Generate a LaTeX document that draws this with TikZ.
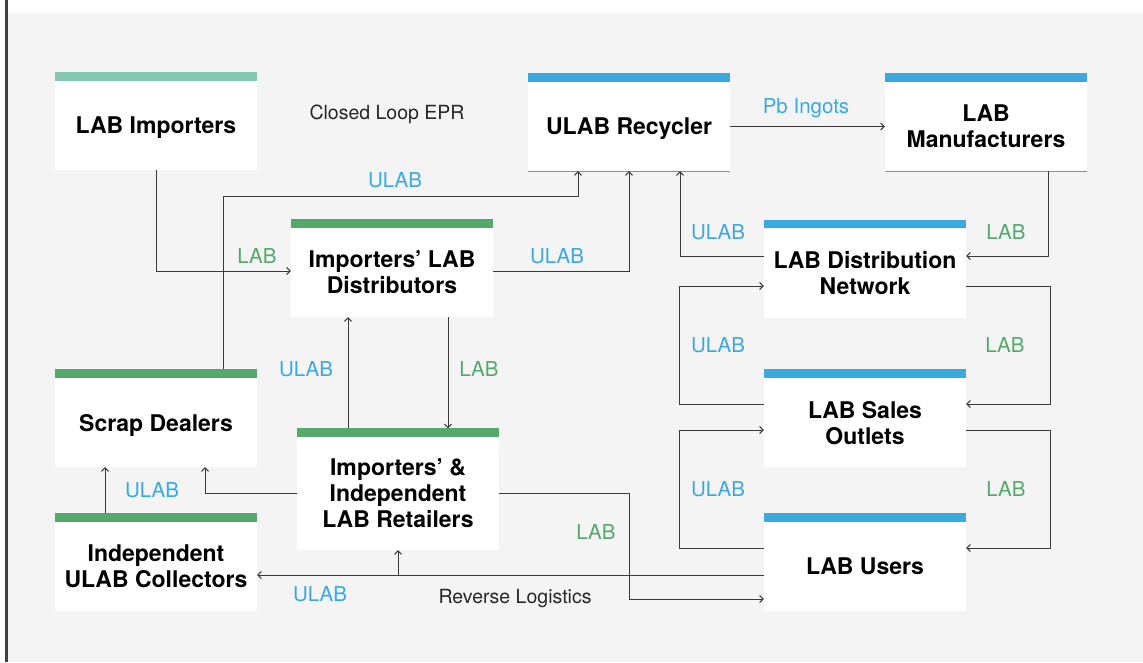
\documentclass[tikz,border=0pt]{standalone}
\usepackage{fontspec}
\setmainfont{TeX Gyre Heros}
\usetikzlibrary{arrows.meta}

\definecolor{ulabblue}{HTML}{39A9DF}
\definecolor{labgreen}{HTML}{52A96A}
\definecolor{importteal}{HTML}{84C8B2}
\definecolor{canvasgrey}{HTML}{F4F4F4}
\definecolor{wiregrey}{HTML}{3A3A3A}

\begin{document}
\begin{tikzpicture}[
      x=1pt,y=-1pt,
      actor/.style={fill=white,minimum width=202pt,minimum height=89pt,inner sep=2pt,align=center,
        font=\bfseries\fontsize{23}{26}\selectfont,text depth=0pt,
        label={[fill=#1,minimum width=202pt,minimum height=8.5pt,inner sep=0pt]north:{}}},
      edged/.style={append after command={\pgfextra{\draw[ulabblue,line width=1pt] (\tikzlastnode.south west) -- (\tikzlastnode.south east);}}},
      flow/.style={-{Straight Barb[length=3.5pt,width=7pt]},draw=wiregrey,line width=1pt},
      ulab/.style={text=ulabblue,font=\fontsize{20.5}{24}\selectfont},
      lab/.style={text=labgreen,font=\fontsize{20.5}{24}\selectfont},
      note/.style={text=black!85,font=\fontsize{19.5}{23}\selectfont}
    ]
      % canvas
      \fill[white] (0,0) rectangle (1143,662);
      \fill[canvasgrey] (7,13) rectangle (1143,662);
      \fill[black!75] (4.5,0) rectangle (7.5,662);

      % actors
      \node[actor=importteal] (imp) at (156,125.5) {LAB Importers};
      \node[actor=ulabblue,edged] (rec) at (629,126.5) {ULAB Recycler};
      \node[actor=ulabblue,edged] (man) at (986,126.5) {LAB\\Manufacturers};
      \node[actor=labgreen] (dist) at (392,272.5) {Importers’ LAB\\Distributors};
      \node[actor=ulabblue] (net) at (865,273) {LAB Distribution\\Network};
      \node[actor=labgreen] (scrap) at (156,422.5) {Scrap Dealers};
      \node[actor=labgreen,minimum height=113pt] (retail) at (398,493.5) {Importers’ \&\\Independent\\LAB Retailers};
      \node[actor=ulabblue] (outlets) at (865,422.5) {LAB Sales\\Outlets};
      \node[actor=labgreen] (coll) at (156,566.5) {Independent\\ULAB Collectors};
      \node[actor=ulabblue] (users) at (865,566.5) {LAB Users};

      % side notes
      \node[note] (epr) at (387,114) {Closed Loop EPR};
      \node[note] (revlog) at (515,599) {Reverse Logistics};

      % flows into the recycler
      \draw[flow] (imp.south) |- ([yshift=1.5pt]dist.west);
      \draw[flow] ([xshift=67pt,yshift=8.5pt]scrap.north) |- ([xshift=-51pt,yshift=-25pt]rec.south) -- ([xshift=-51pt]rec.south);
      \draw[flow] ([yshift=1.5pt]dist.east) -| (rec.south);
      \draw[flow] ([yshift=17pt]net.west) -| ([xshift=51pt]rec.south);
      \draw[flow] (rec) -- (man);

      % lab distribution chain
      \draw[flow] ([xshift=62pt]man.south) |- ([yshift=17pt]net.east);
      \draw[flow] ([yshift=-13pt]net.east) -- ++(84pt,0) |- ([yshift=18.5pt]outlets.east);
      \draw[flow] ([yshift=18.5pt]outlets.west) -- ++(-84pt,0) |- ([yshift=-13pt]net.west);
      \draw[flow] ([yshift=-7.5pt]outlets.east) -- ++(84pt,0) |- ([yshift=18.5pt]users.east);
      \draw[flow] ([yshift=18.5pt]users.west) -- ++(-84pt,0) |- ([yshift=-7.5pt]outlets.west);

      % importers' channel
      \draw[flow] ([xshift=-50pt,yshift=8.5pt]retail.north) -- ([xshift=-44pt]dist.south);
      \draw[flow] ([xshift=56pt]dist.south) -- ([xshift=50pt,yshift=8.5pt]retail.north);
      \draw[flow] (retail.west) -| ([xshift=49pt]scrap.south);
      \draw[flow] ([xshift=-51pt,yshift=8.5pt]coll.north) -- ([xshift=-51pt]scrap.south);
      \draw[flow] (retail.east) -- ++(130pt,0) |- ([yshift=-32.5pt]users.west);

      % reverse logistics
      \draw[flow] ([yshift=-8.5pt]users.west) -- ([yshift=-8.5pt]coll.east);
      \draw[flow] ([yshift=-25pt]retail.south) -- (retail.south);

      % flow labels
      \node[lab] (l-imp) at (257,256) {LAB};
      \node[ulab] (l-scrap) at (395,180) {ULAB};
      \node[ulab] (l-dist) at (557,256) {ULAB};
      \node[ulab] (l-pb) at (806,108) {Pb Ingots};
      \node[ulab] (l-net) at (718,232) {ULAB};
      \node[lab] (l-man) at (1006,232) {LAB};
      \node[ulab] (l-outnet) at (718,345) {ULAB};
      \node[lab] (l-netout) at (1005,345) {LAB};
      \node[ulab] (l-useout) at (718,489) {ULAB};
      \node[lab] (l-outuse) at (1006,489) {LAB};
      \node[ulab] (l-retdist) at (306,369) {ULAB};
      \node[lab] (l-distret) at (479,369) {LAB};
      \node[ulab] (l-coll) at (152,490) {ULAB};
      \node[ulab] (l-rev) at (320,594) {ULAB};
      \node[lab] (l-retuse) at (596,532) {LAB};
    \end{tikzpicture}
\end{document}
